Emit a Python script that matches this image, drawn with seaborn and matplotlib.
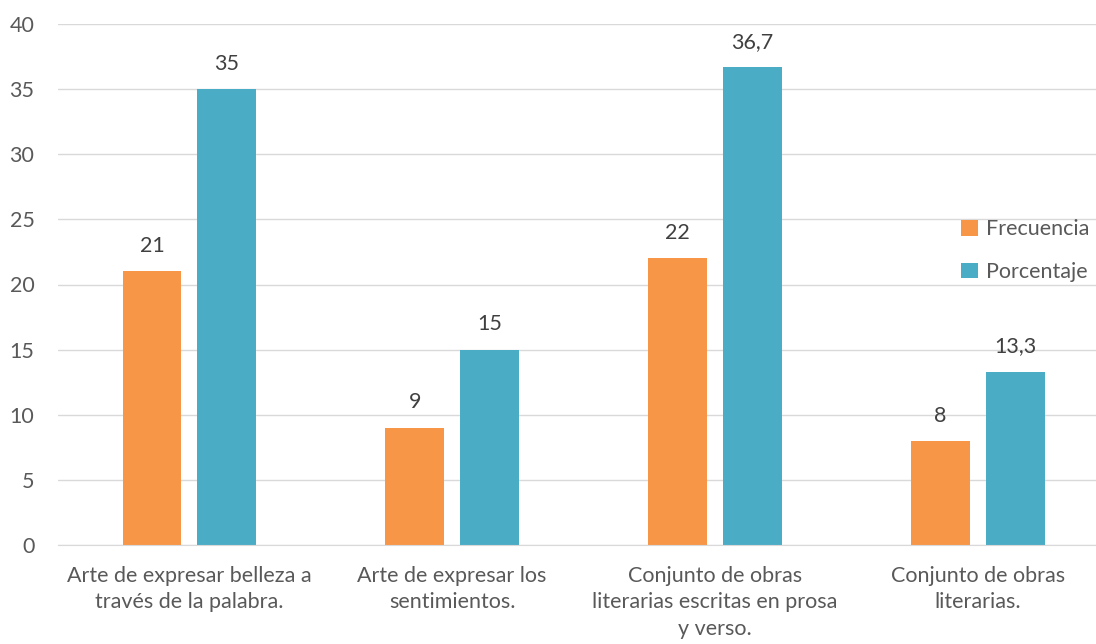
import matplotlib

matplotlib.use("Agg")
import matplotlib.pyplot as plt
import pandas as pd
import seaborn as sns

categories = [
    "Arte de expresar belleza a\ntravés de la palabra.",
    "Arte de expresar los\nsentimientos.",
    "Conjunto de obras\nliterarias escritas en prosa\ny verso.",
    "Conjunto de obras\nliterarias.",
]
series = ["Frecuencia", "Porcentaje"]
frecuencia = [21, 9, 22, 8]
porcentaje = [35, 15, 36.7, 13.3]
colors = ["#F79646", "#4BACC6"]

df = pd.DataFrame({
    "categoria": categories * 2,
    "serie": [series[0]] * 4 + [series[1]] * 4,
    "valor": frecuencia + porcentaje,
})

sns.set_style("white")
plt.rcParams["font.family"] = ["Lato", "DejaVu Sans"]
fs = 15.5

fig = plt.figure(figsize=(10.96, 6.44), dpi=100)
ax = fig.add_axes([58 / 1096, 99 / 644, 1 - 58 / 1096, (545 - 24) / 644])

sns.barplot(data=df, x="categoria", y="valor", hue="serie", palette=colors,
            width=0.57, gap=0.214, ax=ax, saturation=1, linewidth=0,
            legend=True)

for cont in ax.containers:
    labels = [f"{v:g}".replace(".", ",") for v in cont.datavalues]
    ax.bar_label(cont, labels=labels, padding=11, fontsize=fs, color="#404040")

ax.set_ylim(0, 40)
ax.set_xlim(-0.5, 3.45)
ax.set_yticks(range(0, 41, 5))
ax.yaxis.grid(True, color="#D9D9D9", linewidth=1)
ax.set_axisbelow(True)
for s in ["top", "right", "left"]:
    ax.spines[s].set_visible(False)
ax.spines["bottom"].set_color("#D9D9D9")
ax.set_xlabel("")
ax.set_ylabel("")
ax.tick_params(axis="both", length=0, labelsize=fs, colors="#595959")
ax.tick_params(axis="x", pad=15)
ax.tick_params(axis="y", pad=17)
for lbl in ax.get_xticklabels():
    lbl.set_linespacing(1.4)

leg = ax.legend(loc="center left", bbox_to_anchor=(0.862, 0.565), frameon=False,
                fontsize=fs, handlelength=0.75, handleheight=0.75,
                handletextpad=0.4, labelspacing=1.05, borderaxespad=0)
for t in leg.get_texts():
    t.set_color("#595959")

fig.savefig("out.png", dpi=100)
